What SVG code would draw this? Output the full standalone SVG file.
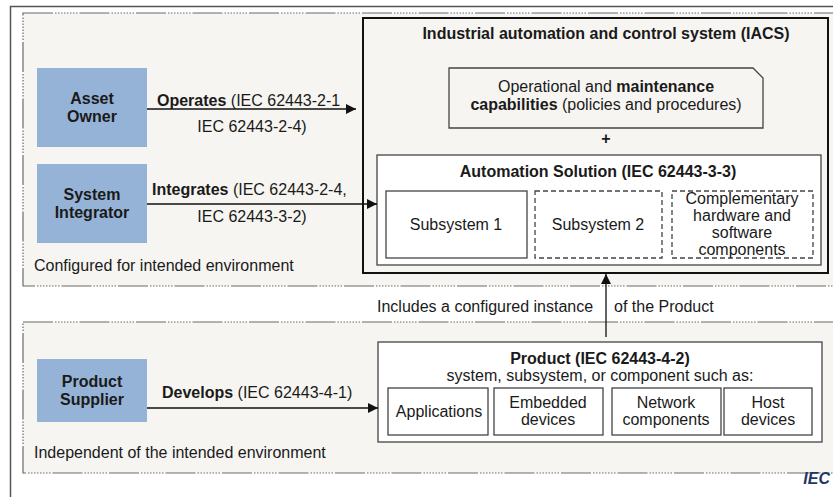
<svg xmlns="http://www.w3.org/2000/svg" width="833" height="497" viewBox="0 0 833 497">
<style>
text{font-family:"Liberation Sans",Arial,sans-serif;fill:#1a1a1a;font-size:16px}
.b{font-weight:bold}
.c{text-anchor:middle}
.actor{fill:#95b3d7;stroke:none}
.region{fill:#f6f5f1;stroke:#6b6b6b;stroke-width:1.2;stroke-dasharray:30 2 1.5 1.5 1.5 1.5 1.5 1.5 1.5 1.5 1.5 1.5 1.5 1.5 1.5 1.5 1.5 2}
.box{fill:#fff;stroke:#444;stroke-width:1.3}
.dbox{fill:#fff;stroke:#444;stroke-width:1.3;stroke-dasharray:5 3}
.conn{stroke:#111;stroke-width:1.3;fill:none}
</style>
<defs>
<marker id="ah" viewBox="0 0 10 10" refX="10" refY="5" markerWidth="10" markerHeight="10" markerUnits="userSpaceOnUse" orient="auto">
<path d="M0,0 L10,5 L0,10 z" fill="#111"/>
</marker>
</defs>
<rect x="0" y="0" width="833" height="497" fill="#fff"/>
<rect x="10.5" y="6.5" width="840" height="520" fill="none" stroke="#555" stroke-width="1.5"/>
<g id="region-configured">
<rect class="region" x="23" y="13" width="830" height="273"/>
<text x="34" y="271">Configured for intended environment</text>
</g>
<g id="region-independent">
<rect class="region" x="23" y="322" width="830" height="151"/>
<text x="34" y="458">Independent of the intended environment</text>
</g>
<g id="asset-owner">
<rect class="actor" x="37" y="68" width="110" height="79"/>
<text class="b c" x="92" y="104">Asset</text>
<text class="b c" x="92" y="122">Owner</text>
</g>
<g id="system-integrator">
<rect class="actor" x="37" y="164" width="110" height="79"/>
<text class="b c" x="92" y="200">System</text>
<text class="b c" x="92" y="218">Integrator</text>
</g>
<g id="product-supplier">
<rect class="actor" x="37" y="359" width="110" height="63"/>
<text class="b c" x="92" y="387">Product</text>
<text class="b c" x="92" y="405">Supplier</text>
</g>
<g id="iacs">
<rect x="363" y="18" width="465" height="255" fill="#f6f5f1" stroke="#111" stroke-width="2"/>
<text class="b c" x="606" y="39">Industrial automation and control system (IACS)</text>
<path d="M449,68 H753 L763,78 V128 H449 Z" fill="#f6f5f1" stroke="#444" stroke-width="1.3"/>
<text class="c" x="606" y="92">Operational and <tspan class="b">maintenance</tspan></text>
<text class="c" x="606" y="110"><tspan class="b">capabilities</tspan> (policies and procedures)</text>
<text class="b c" x="606" y="144" font-size="17">+</text>
</g>
<g id="automation-solution">
<rect class="box" x="377" y="155" width="444" height="110"/>
<text class="b c" x="598" y="177">Automation Solution (IEC 62443-3-3)</text>
</g>
<g id="subsystem-1">
<rect class="box" x="386" y="191" width="141" height="67"/>
<text class="c" x="456" y="230">Subsystem 1</text>
</g>
<g id="subsystem-2">
<rect class="dbox" x="535" y="191" width="127" height="67"/>
<text class="c" x="598" y="230">Subsystem 2</text>
</g>
<g id="complementary">
<rect class="dbox" x="672" y="191" width="141" height="67"/>
<text class="c" x="742" y="204">Complementary</text>
<text class="c" x="742" y="221">hardware and</text>
<text class="c" x="742" y="238">software</text>
<text class="c" x="742" y="255">components</text>
</g>
<g id="product">
<rect class="box" x="378" y="342" width="444" height="100"/>
<text class="b c" x="600" y="364">Product (IEC 62443-4-2)</text>
<text class="c" x="600" y="381">system, subsystem, or component such as:</text>
</g>
<g id="applications">
<rect class="box" x="388" y="388" width="100" height="47"/>
<text class="c" x="439" y="417">Applications</text>
</g>
<g id="embedded">
<rect class="box" x="494" y="388" width="109" height="47"/>
<text class="c" x="548" y="408">Embedded</text>
<text class="c" x="548" y="425">devices</text>
</g>
<g id="network">
<rect class="box" x="612" y="388" width="109" height="47"/>
<text class="c" x="666" y="408">Network</text>
<text class="c" x="666" y="425">components</text>
</g>
<g id="host">
<rect class="box" x="724" y="388" width="88" height="47"/>
<text class="c" x="768" y="408">Host</text>
<text class="c" x="768" y="425">devices</text>
</g>
<g id="connectors">
<line class="conn" x1="147" y1="109" x2="356" y2="109" marker-end="url(#ah)"/>
<text x="157" y="106"><tspan class="b">Operates</tspan> (IEC 62443-2-1</text>
<text class="c" x="252" y="132">IEC 62443-2-4)</text>
<line class="conn" x1="147" y1="204" x2="377" y2="204" marker-end="url(#ah)"/>
<text x="152" y="195"><tspan class="b">Integrates</tspan> (IEC 62443-2-4,</text>
<text class="c" x="252" y="222">IEC 62443-3-2)</text>
<line class="conn" x1="147" y1="408" x2="378" y2="408" marker-end="url(#ah)"/>
<text x="162" y="398"><tspan class="b">Develops</tspan> (IEC 62443-4-1)</text>
<line class="conn" x1="606" y1="337" x2="606" y2="274" marker-end="url(#ah)"/>
<text x="377" y="312">Includes a configured instance</text>
<text x="614" y="312">of the Product</text>
</g>
<text x="830" y="484" text-anchor="end" font-size="10" font-style="italic" font-weight="bold" style="fill:#1f3864">IEC</text>
</svg>
